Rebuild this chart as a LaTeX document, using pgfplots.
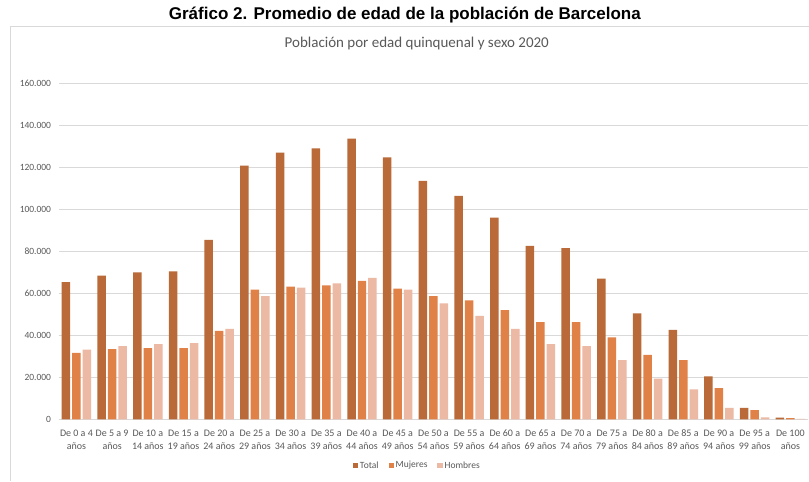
\documentclass[border=0pt]{standalone}
\usepackage{pgfplots}
\pgfplotsset{compat=1.18}
\usepackage{fontspec}
\setmainfont{Carlito}
\newfontfamily\titlefont{Liberation Sans}
\definecolor{cTotal}{RGB}{185,106,56}
\definecolor{cMuj}{RGB}{224,130,72}
\definecolor{cHom}{RGB}{236,185,165}
\definecolor{cGrid}{RGB}{217,217,217}
\definecolor{cText}{RGB}{89,89,89}
\begin{document}
\begin{tikzpicture}[x=1bp,y=1bp]
\path[fill=white] (0,0) rectangle (809,481);
\draw[cGrid,line width=0.8bp] (10,0) -- (10,455) -- (809,455);
\node[font=\titlefont\bfseries\fontsize{17bp}{20bp}\selectfont] at (405,466) {Gráfico 2. Promedio de edad de la población de Barcelona};
\node[font=\fontsize{15bp}{17bp}\selectfont,text=cText] at (417,437) {Población por edad quinquenal y sexo 2020};
\begin{axis}[
  at={(58.6bp,61.5bp)}, anchor=south west,
  scale only axis, width=750bp, height=336bp,
  xmin=-0.5, xmax=20.5, ymin=0, ymax=160000,
  ybar=2bp, bar width=8.5bp,
  axis x line*=bottom, axis y line*=left,
  x axis line style={cGrid,line width=0.8bp,-},
  y axis line style={draw=none},
  ymajorgrids, grid style={cGrid,line width=0.8bp},
  ytick={0,20000,...,160000},
  major tick length=0pt,
  xtick=data,
  xticklabels={{De 0 a 4\\años},{De 5 a 9\\años},{De 10 a\\14 años},{De 15 a\\19 años},{De 20 a\\24 años},{De 25 a\\29 años},{De 30 a\\34 años},{De 35 a\\39 años},{De 40 a\\44 años},{De 45 a\\49 años},{De 50 a\\54 años},{De 55 a\\59 años},{De 60 a\\64 años},{De 65 a\\69 años},{De 70 a\\74 años},{De 75 a\\79 años},{De 80 a\\84 años},{De 85 a\\89 años},{De 90 a\\94 años},{De 95 a\\99 años},{De 100\\años}},
  xticklabel style={align=center,font=\fontsize{10bp}{13bp}\selectfont,text=cText,yshift=-7bp},
  yticklabel style={font=\fontsize{9.5bp}{11bp}\selectfont,text=cText,xshift=-4bp},
  yticklabel={\pgfmathprintnumber{\tick}},
  /pgf/number format/.cd, fixed, 1000 sep={.}, assume math mode=true, /pgfplots/.cd,
  scaled y ticks=false,
  legend columns=3,
  legend style={draw=none,at={(0.4785,-0.1375)},anchor=center,font=\fontsize{9.5bp}{11bp}\selectfont,text=cText,
    /tikz/every even column/.append style={column sep=8bp}},
  legend image code/.code={\fill[#1,draw=none] (0bp,-2.6bp) rectangle (5.2bp,2.6bp);},
  every axis plot/.append style={draw=none},
  clip=false,
]
\addplot[fill=cTotal] coordinates {(0,65300)(1,68450)(2,70050)(3,70500)(4,85450)(5,120800)(6,127000)(7,129100)(8,133700)(9,124800)(10,113600)(11,106400)(12,96100)(13,82600)(14,81600)(15,67000)(16,50400)(17,42600)(18,20400)(19,5400)(20,800)};
\addplot[fill=cMuj] coordinates {(0,31650)(1,33400)(2,33900)(3,33900)(4,42100)(5,61800)(6,63200)(7,63850)(8,65900)(9,62250)(10,58700)(11,56600)(12,52000)(13,46300)(14,46300)(15,39000)(16,30700)(17,28200)(18,14800)(19,4400)(20,600)};
\addplot[fill=cHom] coordinates {(0,33200)(1,34850)(2,35800)(3,36250)(4,43100)(5,58650)(6,62750)(7,64800)(8,67350)(9,61800)(10,55200)(11,49300)(12,43100)(13,35800)(14,34800)(15,28200)(16,19400)(17,14200)(18,5400)(19,900)(20,200)};
\legend{Total,Mujeres,Hombres}
\end{axis}
\end{tikzpicture}
\end{document}
